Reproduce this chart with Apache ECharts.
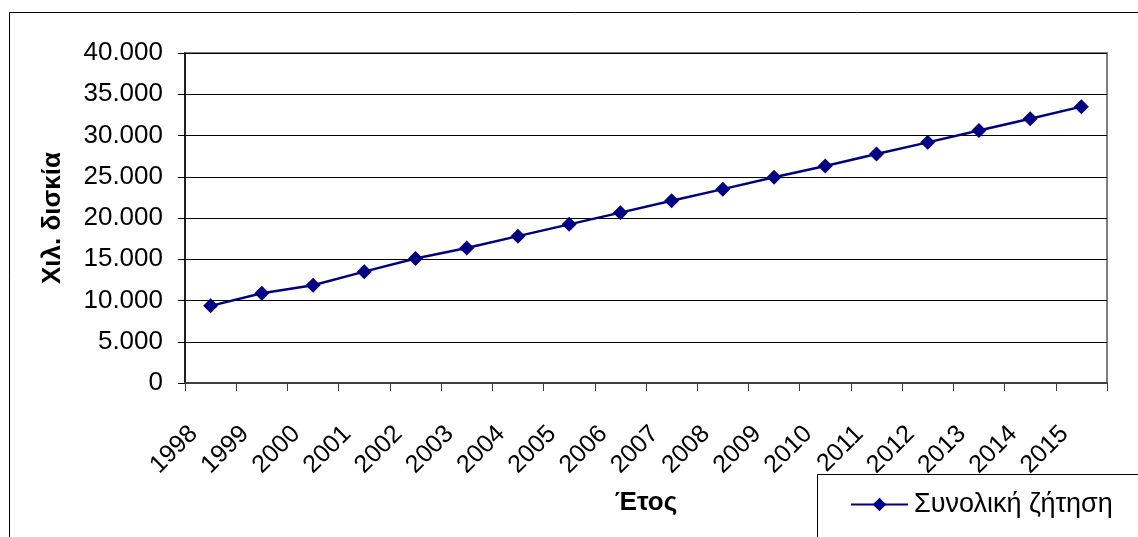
<!DOCTYPE html>
<html>
<head>
<meta charset="utf-8">
<script src="https://cdn.jsdelivr.net/npm/echarts@6/dist/echarts.min.js"></script>
<style>
html,body{margin:0;padding:0;background:#fff;}
#chart{width:1138px;height:537px;}
</style>
</head>
<body>
<div id="chart"></div>
<script>
const years = ['1998','1999','2000','2001','2002','2003','2004','2005','2006','2007','2008','2009','2010','2011','2012','2013','2014','2015'];
const totalDemand = [9350,10870,11840,13500,15100,16360,17800,19230,20650,22100,23500,24930,26300,27760,29170,30600,32040,33500];
const seriesName = 'Συνολική ζήτηση';
const yAxisTitle = 'Χιλ. δισκία';
const xAxisTitle = 'Έτος';

const FONT = '"Liberation Sans", Arial, sans-serif';
const chart = echarts.init(document.getElementById('chart'), null, {renderer: 'canvas'});
chart.setOption({
  animation: false,
  backgroundColor: '#ffffff',
  textStyle: {fontFamily: FONT},
  graphic: [
    {type: 'rect', shape: {x: 9.5, y: 12.5, width: 1300, height: 700}, style: {fill: 'none', stroke: '#000', lineWidth: 1}, silent: true, z: -1},
    {type: 'rect', shape: {x: 817.5, y: 474.5, width: 500, height: 200}, style: {fill: '#fff', stroke: '#000', lineWidth: 1}, silent: true, z: 1}
  ],
  grid: {left: 185, right: 31, top: 53, bottom: 154, show: true, borderColor: '#808080', borderWidth: 2, backgroundColor: 'transparent'},
  legend: {
    show: true, left: 850, top: 491, padding: 0, itemWidth: 57, itemHeight: 17, itemGap: 10,
    textStyle: {fontFamily: FONT, fontSize: 27, color: '#000', padding: [0, 0, 0, 1]}, z: 5,
    data: [{name: seriesName}]
  },
  xAxis: {
    type: 'category', data: years, boundaryGap: true,
    name: xAxisTitle, nameLocation: 'middle', nameGap: 107,
    nameTextStyle: {fontFamily: FONT, fontSize: 26, fontWeight: 'bold', color: '#000'},
    axisLine: {lineStyle: {color: '#404040', width: 2}},
    axisTick: {show: true, alignWithLabel: false, length: 8, lineStyle: {color: '#404040', width: 1}},
    axisLabel: {rotate: 45, margin: 30, padding: [0, 24, 0, 0], fontFamily: FONT, fontSize: 25, color: '#000', interval: 0},
    splitLine: {show: false}
  },
  yAxis: {
    type: 'value', min: 0, max: 40000, interval: 5000,
    name: yAxisTitle, nameLocation: 'middle', nameGap: 119, nameRotate: 90,
    nameTextStyle: {fontFamily: FONT, fontSize: 26, fontWeight: 'bold', color: '#000'},
    axisLine: {show: true, lineStyle: {color: '#000', width: 1.5}},
    axisTick: {show: true, length: 7, lineStyle: {color: '#000'}},
    axisLabel: {
      margin: 22, fontFamily: FONT, fontSize: 26, color: '#000',
      formatter: v => v === 0 ? '0' : String(v).replace(/\B(?=(\d{3})+(?!\d))/g, '.')
    },
    splitLine: {show: true, lineStyle: {color: '#000', width: 1}}
  },
  series: [{
    name: seriesName, type: 'line', data: totalDemand,
    symbol: 'diamond', symbolSize: 15, showSymbol: true,
    lineStyle: {color: '#000080', width: 2.5},
    itemStyle: {color: '#000080'},
    z: 3
  }]
});
</script>
</body>
</html>
